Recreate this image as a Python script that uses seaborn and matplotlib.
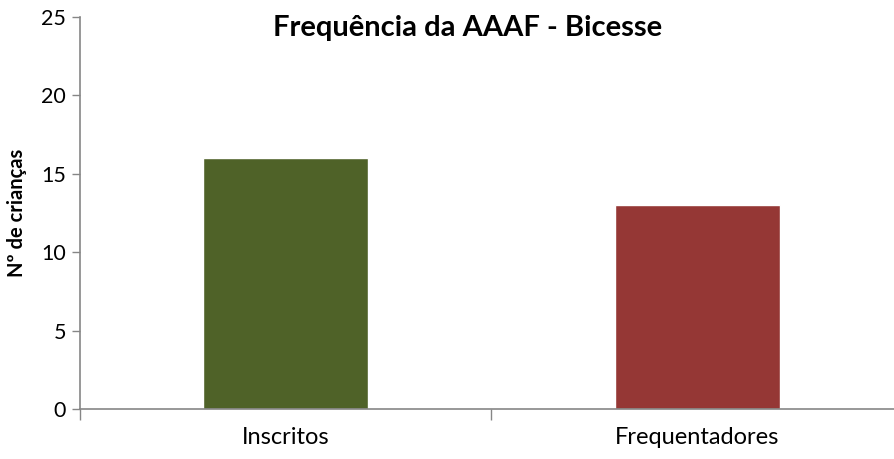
import matplotlib
matplotlib.use("Agg")
import matplotlib.pyplot as plt
import seaborn as sns
import pandas as pd

categories = ["Inscritos", "Frequentadores"]
values = [16, 13]
colors = ["#4F6228", "#953735"]
yticks = [0, 5, 10, 15, 20, 25]
title = "Frequência da AAAF - Bicesse"
ylabel = "Nº de crianças"

sns.set_style("white")
plt.rcParams['font.family'] = ['Lato', 'DejaVu Sans']
plt.rcParams['text.color'] = '#000000'
plt.rcParams['axes.labelcolor'] = '#000000'

df = pd.DataFrame({"cat": categories, "val": values})

fig = plt.figure(figsize=(8.95, 4.59), dpi=100)
ax = fig.add_axes([80/895, 50/459, 823/895, 392/459])
sns.barplot(data=df, x="cat", y="val", hue="cat", palette=colors, width=0.4,
            legend=False, ax=ax, saturation=1)
ax.set_xlim(-0.5, 1.5)
ax.set_ylim(0, 25)
ax.set_yticks(yticks)
ax.set_yticklabels([str(t) for t in yticks], fontsize=15.5)
ax.set_xticks([0, 1])
ax.set_xticklabels(categories, fontsize=17)
ax.tick_params(axis="x", length=0, pad=13, labelcolor="#000000")
ax.tick_params(axis="y", length=6, width=1, color="#868686", direction="out", left=True, pad=4,
               labelcolor="#000000")
# category boundary ticks
ax.set_xticks([-0.5, 0.5, 1.5], minor=True)
ax.tick_params(axis="x", which="minor", length=8, width=1, color="#868686", direction="out", bottom=True)
for s in ["top", "right"]:
    ax.spines[s].set_visible(False)
for s in ["left", "bottom"]:
    ax.spines[s].set_color("#868686")
    ax.spines[s].set_linewidth(1.2)
ax.set_xlabel("")
ax.set_ylabel(ylabel, fontsize=14.5, fontweight="bold", labelpad=10, color="#000000")
fig.text(468/895, 1 - 28/459, title, fontsize=21, fontweight="bold", ha="center", va="center",
         color="#000000")
fig.savefig("out.png", dpi=100)
